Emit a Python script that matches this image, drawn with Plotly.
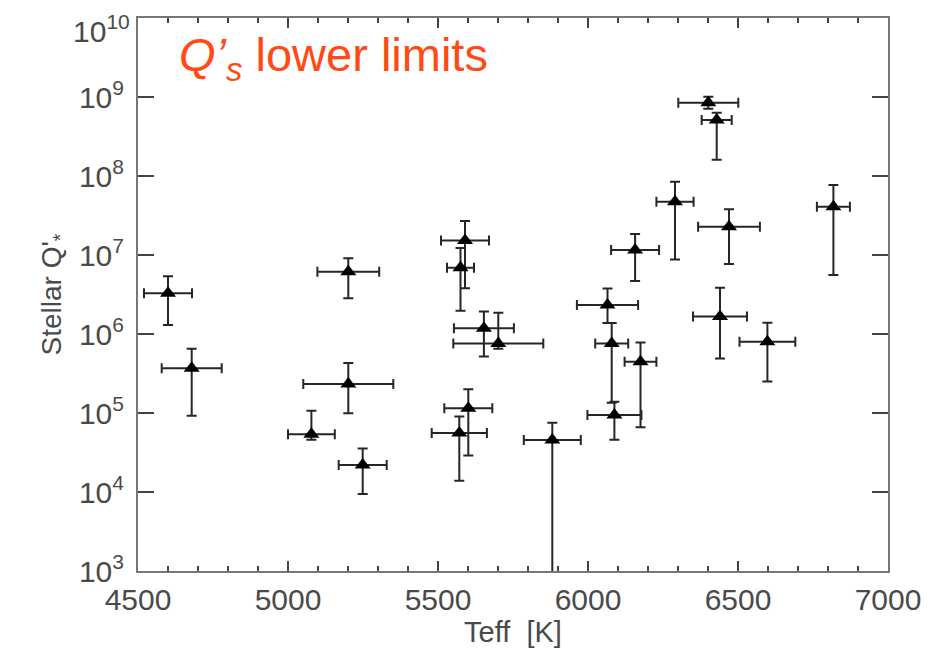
import plotly.graph_objects as go

# Effective temperature (K) and its half-width error
teff = [4600, 4679, 5201, 5201, 5078, 5249, 6401, 6429, 6290, 6157,
        5590, 5575, 6470, 6818, 6440, 6598, 6065, 6079, 6088, 6175,
        5881, 5653, 5701, 5601, 5571]
teff_err = [80, 100, 103, 150, 78, 80, 100, 50, 62, 80,
            80, 45, 103, 55, 90, 93, 102, 55, 90, 53,
            95, 100, 150, 80, 92]

# Stellar Q' lower limits and error-bar bounds
q = [3.27e6, 3.68e5, 6.15e6, 2.33e5, 5.37e4, 2.2e4, 8.47e8, 5.12e8, 4.73e7, 1.16e7,
     1.53e7, 6.9e6, 2.28e7, 4.09e7, 1.66e6, 8.0e5, 2.33e6, 7.6e5, 9.4e4, 4.47e5,
     4.55e4, 1.18e6, 7.6e5, 1.15e5, 5.6e4]
q_hi = [5.4e6, 6.5e5, 9.1e6, 4.3e5, 1.07e5, 3.55e4, 1.01e9, 6.3e8, 8.47e7, 1.85e7,
        2.7e7, 1.23e7, 3.8e7, 7.7e7, 3.85e6, 1.39e6, 3.78e6, 1.38e6, 1.39e5, 7.8e5,
        7.5e4, 1.92e6, 1.86e6, 2.0e5, 9.0e4]
q_lo = [1.3e6, 9.2e4, 2.83e6, 9.9e4, 4.6e4, 9.4e3, 7.1e8, 1.6e8, 8.8e6, 4.7e6,
        3.8e6, 1.97e6, 7.7e6, 5.6e6, 4.9e5, 2.5e5, 1.38e6, 1.35e5, 4.6e4, 6.6e4,
        1.0e1, 5.2e5, 6.5e5, 2.9e4, 1.39e4]

y_tickvals = [1e3, 1e4, 1e5, 1e6, 1e7, 1e8, 1e9, 1e10]
y_ticktext = ["10<sup>3</sup>", "10<sup>4</sup>", "10<sup>5</sup>", "10<sup>6</sup>",
              "10<sup>7</sup>", "10<sup>8</sup>", "10<sup>9</sup>", "10<sup>10</sup>"]
x_tickvals = [4500, 5000, 5500, 6000, 6500, 7000]

err_col = "#262626"
fig = go.Figure()
fig.add_trace(go.Scatter(
    x=teff, y=q, mode="markers",
    marker=dict(symbol="triangle-up", size=14, color="black"),
    error_x=dict(type="data", array=teff_err, color=err_col, thickness=2, width=5),
    error_y=dict(type="data", symmetric=False,
                 array=[h - v for h, v in zip(q_hi, q)],
                 arrayminus=[v - l for v, l in zip(q, q_lo)],
                 color=err_col, thickness=2, width=5),
    showlegend=False,
))

tick_font = dict(family="Liberation Sans", size=30, color="#4a4a4a")
# top label is drawn slightly below its tick (as in the reference) so it stays on the page
shown_ticktext = y_ticktext[:-1] + [""]
fig.update_layout(
    width=930, height=660,
    margin=dict(l=130, r=50, t=10, b=97),
    paper_bgcolor="white", plot_bgcolor="white",
    font=dict(family="Liberation Sans", color="#4a4a4a"),
    xaxis=dict(
        range=[4500, 7000], tickvals=x_tickvals, automargin=False,
        ticks="inside", ticklen=10, tickwidth=1.5, tickcolor="#444",
        minor=dict(dtick=100, ticks="inside", ticklen=5, tickwidth=1.5, tickcolor="#444"),
        showline=True, linecolor="#777", linewidth=2, mirror="allticks",
        showgrid=False, zeroline=False, tickfont=tick_font, ticklabelstandoff=1,
        ticklabeloverflow="allow",
        title=dict(text="Teff  [K]", font=dict(family="Liberation Sans", size=29, color="#4a4a4a"),
                   standoff=0),
    ),
    yaxis=dict(
        type="log", range=[3, 10], tickvals=y_tickvals, ticktext=shown_ticktext, automargin=False,
        ticks="inside", ticklen=16, tickwidth=1.5, tickcolor="#444",
        showline=True, linecolor="#777", linewidth=2, mirror="allticks",
        showgrid=False, zeroline=False, tickfont=tick_font, ticklabelstandoff=6,
        ticklabeloverflow="allow",
        title=dict(text="Stellar Q'<sub>*</sub>", font=dict(family="Liberation Sans", size=28, color="#4a4a4a"),
                   standoff=9),
    ),
    annotations=[
        dict(
            text="<i>Q’<sub>s</sub></i> lower limits",
            xref="paper", yref="paper", x=0.052, y=0.928,
            xanchor="left", yanchor="middle", showarrow=False,
            font=dict(family="Liberation Sans", size=47, color="#FF4A14"),
        ),
        dict(
            text=y_ticktext[-1],
            xref="paper", yref="paper", x=0, y=1, xshift=-6, yshift=-11,
            xanchor="right", yanchor="middle", showarrow=False,
            font=tick_font,
        ),
    ],
)

fig.write_html("out.html")
